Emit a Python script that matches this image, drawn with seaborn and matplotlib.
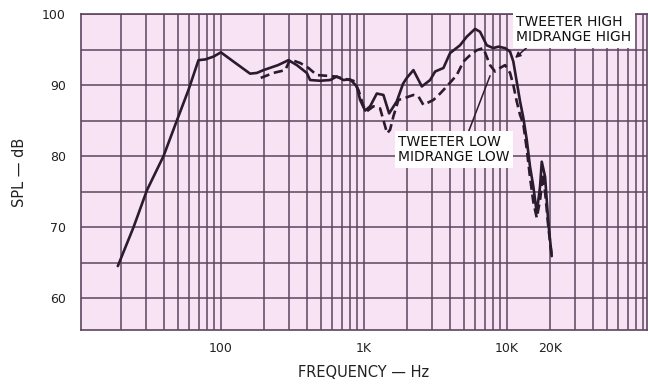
import numpy as np
import pandas as pd
import seaborn as sns
from matplotlib import pyplot as plt
from matplotlib.ticker import LogLocator, MultipleLocator, NullFormatter

# solid curve: tweeter high / midrange high
freq_high = [19, 24.5, 30.4, 39.7, 49.2, 59.3, 69.7, 77.6, 88.8, 100, 122.5, 160, 178.5,
             198.7, 251, 297, 340, 399, 421, 495, 581, 647, 720, 802, 893, 942, 1021,
             1107, 1233, 1371, 1503, 1701, 1883, 1999, 2223, 2546, 2910, 3154, 3606,
             4013, 4713, 5250, 6000, 6504, 7244, 8054, 8730, 9730, 10550, 11120, 11740,
             12390, 13060, 13800, 14550, 15350, 16220, 17100, 17580, 18540, 19050,
             19540, 20090, 20640]
spl_high = [64.5, 70.0, 75.2, 80.0, 85.0, 89.3, 93.5, 93.6, 94.0, 94.6, 93.3, 91.6, 91.7,
            92.1, 92.8, 93.5, 92.8, 91.7, 90.7, 90.6, 90.7, 91.2, 90.7, 90.8, 89.8, 87.9,
            86.4, 87.0, 88.8, 88.6, 86.0, 87.7, 90.2, 91.0, 92.1, 89.8, 90.7, 91.9, 92.4,
            94.5, 95.6, 96.8, 97.9, 97.5, 95.6, 95.2, 95.4, 95.2, 94.7, 93.3, 90.5,
            87.7, 85.4, 82.3, 78.5, 75.7, 72.0, 75.7, 79.2, 77.1, 73.8,
            70.6, 68.2, 65.9]

# dashed curve: tweeter low / midrange low
freq_low = [190, 233, 282, 305, 359, 410, 469, 551, 630, 760, 846, 917, 994, 1050, 1167,
            1300, 1409, 1455, 1527, 1611, 1746, 1892, 2223, 2409, 2611, 3069, 3419,
            3804, 4470, 4975, 5538, 6169, 6858, 7643, 8281, 8975, 9730, 10550, 11120,
            11740, 12390, 13060, 13800, 14550, 15350, 16220, 17100, 18000, 18840,
            19540, 20640]
spl_low = [91.0, 91.7, 92.1, 93.6, 93.1, 92.4, 91.4, 91.3, 91.2, 90.8, 90.6, 89.3, 87.0,
           86.3, 87.0, 86.7, 84.2, 83.2, 83.7, 85.6, 87.9, 88.1, 88.6, 88.4, 87.2, 87.9,
           88.8, 89.8, 91.4, 93.3, 94.2, 94.9, 95.2, 92.8, 91.9, 92.4, 92.8, 91.7, 90.0,
           87.7, 85.8, 84.5, 81.0, 77.0, 73.5, 71.3, 73.8, 77.5, 73.5,
           70.0, 65.9]

x_ticks = [100, 1000, 10000, 20000]
x_tick_labels = ['100', '1K', '10K', '20K']
y_ticks = [60, 70, 80, 90, 100]

sns.set_style("white")
plt.rcParams['font.family'] = ['DejaVu Sans']

ink = '#2b1b2e'
grid_col = '#5b4660'

fig = plt.figure(figsize=(6.48, 3.85), dpi=100)
ax = fig.add_axes([81/648, 1-330/385, (647-81)/648, (330-14)/385])
ax.set_facecolor('#f7e3f4')

sns.lineplot(x=freq_high, y=spl_high, ax=ax, color=ink, linewidth=1.9,
             estimator=None, sort=False)
sns.lineplot(x=freq_low, y=spl_low, ax=ax, color=ink, linewidth=1.9,
             estimator=None, sort=False, dashes=False, linestyle=(0, (3.5, 1.8)))

ax.set_xscale('log')
ax.set_xlim(10.5, 95800)
ax.set_ylim(55.5, 100)

ax.set_xticks(x_ticks)
ax.set_xticklabels(x_tick_labels)
ax.xaxis.set_minor_locator(LogLocator(base=10, subs=np.arange(2, 10)))
ax.xaxis.set_minor_formatter(NullFormatter())
ax.set_yticks(y_ticks)
ax.yaxis.set_minor_locator(MultipleLocator(5))
ax.grid(which='both', color=grid_col, linewidth=1.1)
ax.set_axisbelow(True)
ax.tick_params(which='both', length=0, labelsize=9, colors='#222222', pad=9)
ax.tick_params(axis='y', pad=11)
for sp in ax.spines.values():
    sp.set_color(grid_col)
    sp.set_linewidth(1.2)

ax.set_xlabel('FREQUENCY — Hz', fontsize=10.5, labelpad=7, color='#222222')
ax.set_ylabel('SPL — dB', fontsize=10.5, labelpad=11, color='#222222')

box = dict(boxstyle='square,pad=0.25', fc='white', ec='none')
ax.annotate('TWEETER HIGH\nMIDRANGE HIGH', xy=(11430, 93.8), xytext=(11700, 97.8),
            ha='left', va='center', fontsize=10, color='#111111', linespacing=1.15,
            bbox=box, annotation_clip=False,
            arrowprops=dict(arrowstyle='-|>', color=ink, lw=1.1, mutation_scale=8,
                            shrinkA=0, shrinkB=0, relpos=(0.12, 0.0)))
ax.annotate('TWEETER LOW\nMIDRANGE LOW', xy=(7643, 91.3), xytext=(1740, 80.9),
            ha='left', va='center', fontsize=10, color='#111111', linespacing=1.15,
            bbox=box,
            arrowprops=dict(arrowstyle='-', color=ink, lw=1.1,
                            shrinkA=0, shrinkB=0, relpos=(0.62, 1.0)))

fig.savefig('out.png', dpi=100)
